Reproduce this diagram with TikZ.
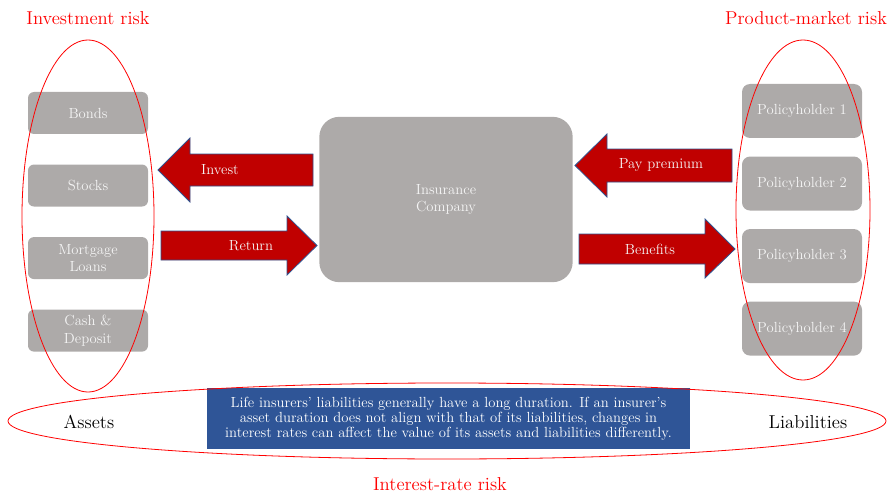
\documentclass[tikz,border=0pt]{standalone}
\usepackage{tikz}
\usetikzlibrary{shapes,arrows}
\usetikzlibrary{positioning}
\definecolor{boxgray}{RGB}{173,170,169}
\definecolor{boxtext}{RGB}{245,245,245}
\definecolor{flowred}{RGB}{192,0,0}
\definecolor{flowedge}{RGB}{47,82,143}
\definecolor{noteblue}{RGB}{47,85,151}
\definecolor{ringred}{RGB}{255,0,0}
\tikzset{x=0.75pt, y=-0.75pt, font=\fontsize{11}{13}\selectfont}
\tikzstyle{asset} = [fill=boxgray, rounded corners=4.5pt, minimum width=90pt, minimum height=31.5pt, text=boxtext, align=center, inner sep=0pt]
\tikzstyle{holder} = [asset, minimum height=40.5pt, rounded corners=6pt]
\tikzstyle{company} = [asset, minimum width=190pt, minimum height=124pt, rounded corners=15pt]
\tikzstyle{note} = [fill=noteblue, text=white, minimum width=362pt, minimum height=46pt, align=center, inner sep=0pt, font=\fontsize{11}{11.3}\selectfont]
\tikzstyle{flow} = [fill=flowred, draw=flowedge, line width=0.6pt, line join=miter]
\tikzstyle{flowlabel} = [text=boxtext, inner sep=0pt]
\tikzstyle{ring} = [draw=ringred, ellipse, inner sep=0pt, line width=0.6pt]
\tikzstyle{risk} = [text=ringred, inner sep=0pt, font=\fontsize{14}{16}\selectfont]
\tikzstyle{side} = [inner sep=0pt, font=\fontsize{14}{16}\selectfont]
\begin{document}
\begin{tikzpicture}
    \useasboundingbox (0,0) rectangle (893,492);
    % assets column
    \node [asset] (bonds) at (88,113) {Bonds};
    \node [asset, below=22.5pt of bonds] (stocks) {Stocks};
    \node [asset, below=22.5pt of stocks] (mortgage) {Mortgage\\Loans};
    \node [asset, below=22.5pt of mortgage] (cash) {Cash \&\\Deposit};
    % liabilities column
    \node [holder] (holder1) at (802,111) {Policyholder 1};
    \node [holder, below=13.5pt of holder1] (holder2) {Policyholder 2};
    \node [holder, below=13.5pt of holder2] (holder3) {Policyholder 3};
    \node [holder, below=13.5pt of holder3] (holder4) {Policyholder 4};
    \node [company] (insurer) at (446,199.5) {Insurance\\Company};
    % block arrows
    \draw [flow] (313,154) -- (190,154) -- (190,138) -- (158,170) -- (190,202) -- (190,186) -- (313,186) -- cycle;
    \draw [flow] (161,231) -- (287,231) -- (287,216) -- (317,245.5) -- (287,275) -- (287,260) -- (161,260) -- cycle;
    \draw [flow] (732,149) -- (607,149) -- (607,134) -- (575,165.5) -- (607,197) -- (607,182) -- (732,182) -- cycle;
    \draw [flow] (579,234) -- (705,234) -- (705,219) -- (735,249) -- (705,278) -- (705,264) -- (579,264) -- cycle;
    \node [flowlabel] (invest) at (220,170) {Invest};
    \node [flowlabel] (return) at (251,246) {Return};
    \node [flowlabel] (premium) at (661,165) {Pay premium};
    \node [flowlabel] (benefits) at (650,249) {Benefits};
    % interest-rate note
    \node [note] (duration) at (448.5,418.5) {Life insurers' liabilities generally have a long duration. If an insurer's\\asset duration does not align with that of its liabilities, changes in\\interest rates can affect the value of its assets and liabilities differently.};
    \node [side] (assets) at (89,422) {Assets};
    \node [side] (liabilities) at (808,422) {Liabilities};
    % risk rings
    \node [ring, minimum width=99pt, minimum height=264pt] (assetring) at (88,216) {};
    \node [ring, minimum width=100.5pt, minimum height=255pt] (liabring) at (803,210) {};
    \node [ring, minimum width=658.5pt, minimum height=57pt] (ratering) at (447,421) {};
    \node [risk] (investrisk) at (88,18) {Investment risk};
    \node [risk] (marketrisk) at (806,18) {Product-market risk};
    \node [risk] (raterisk) at (440,484) {Interest-rate risk};
\end{tikzpicture}
\end{document}
